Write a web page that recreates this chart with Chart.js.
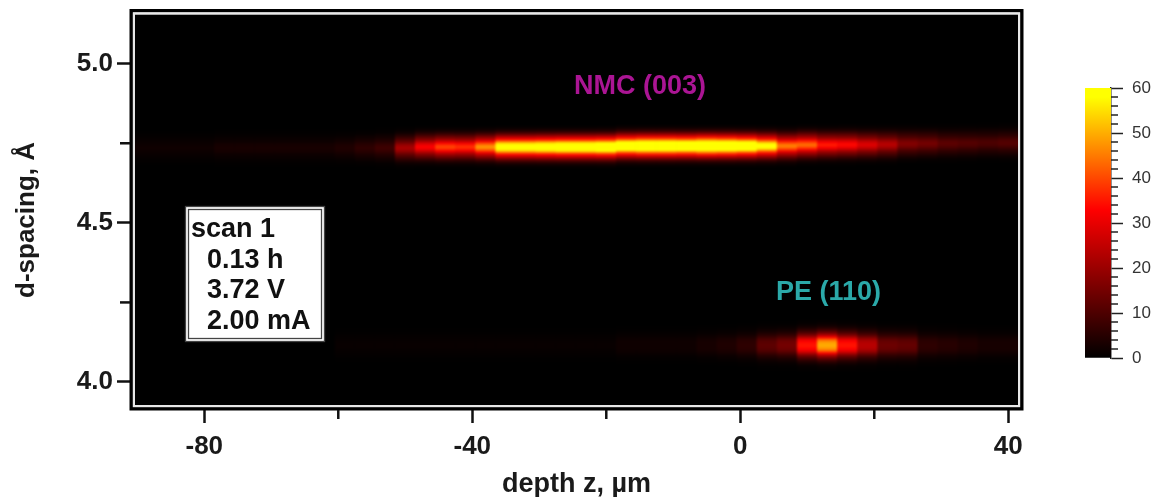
<!DOCTYPE html>
<html><head><meta charset="utf-8">
<style>html,body{margin:0;padding:0;background:#fff;width:1154px;height:497px;overflow:hidden}
canvas{position:absolute;top:0;display:block}</style>
<script src="https://cdn.jsdelivr.net/npm/chart.js@4"></script></head>
<body><canvas id="main" width="1154" height="497" style="left:0"></canvas>
<canvas id="bar" width="100" height="497" style="left:1054px"></canvas>
<script>
// column centres, µm
const depthZ=[-89,-86,-83,-80,-77,-74,-71,-68,-65,-62,-59,-56,-53,-50,-47,-44,-41,-38,-35,-32,-29,-26,-23,-20,-17,-14,-11,-8,-5,-2,1,4,7,10,13,16,19,22,25,28,31,34,37,40];
// peak intensity per column
const nmcPeak=[2,2,2,2,3,3,3,3,3,3,4,6,8,22,33,40,38,48,66,66,68,70,70,72,72,76,76,74,78,76,72,62,46,44,36,34,29,24,17,15,12,11,10,11];
const pePeak=[0,0,0,0,0,0,0,0,0,0,1,1,1,1,1,1,1,1,1,1,1,1,1,1,2,2,2,2,3,4,6,12,15,35,50,35,24,14,13,6,5,4,3,3];
// peak d-spacing per column, Å
const nmcCenter=[4.734,4.734,4.734,4.734,4.734,4.734,4.734,4.734,4.734,4.734,4.734,4.734,4.734,4.734,4.737,4.737,4.737,4.737,4.737,4.737,4.737,4.737,4.737,4.737,4.74,4.74,4.74,4.74,4.74,4.74,4.74,4.74,4.74,4.743,4.743,4.744,4.744,4.745,4.747,4.748,4.748,4.749,4.75,4.75];
const peCenter=[4.114,4.114,4.114,4.114,4.114,4.114,4.114,4.114,4.114,4.114,4.114,4.114,4.114,4.114,4.114,4.114,4.114,4.114,4.114,4.114,4.114,4.114,4.114,4.114,4.114,4.114,4.114,4.114,4.114,4.114,4.114,4.114,4.114,4.114,4.114,4.114,4.114,4.114,4.114,4.114,4.114,4.114,4.114,4.114];
// vertical peak profiles: d-spacing offset (Å) and fraction of the peak
const rowOffsets=[-0.0754,-0.0691,-0.0628,-0.0565,-0.0502,-0.044,-0.0377,-0.0314,-0.0251,-0.0188,-0.0126,-0.0063,0,0.0063,0.0126,0.0188,0.0251,0.0314,0.0377,0.044,0.0502,0.0565,0.0628,0.0691,0.0754];
const nmcProfile=[0,0,0.01,0.03,0.07,0.14,0.24,0.36,0.48,0.62,0.8,0.93,1,0.93,0.8,0.62,0.48,0.36,0.24,0.14,0.07,0.03,0.01,0,0];
const peProfile=[0.01,0.02,0.04,0.08,0.14,0.22,0.32,0.46,0.64,0.82,0.93,0.98,1,0.98,0.93,0.82,0.64,0.46,0.32,0.22,0.14,0.08,0.04,0.02,0.01];
const rowHeight=0.0068;
const xTicks=[-80,-40,0,40], xMinor=[-60,-20,20];
const yTicks=[4.0,4.5,5.0], yMinor=[4.25,4.75];
// colour scale: value -> rgb stops
const cmapValues=[0,33,58,60];
const cmapColors=[[0,0,0],[255,0,0],[255,255,0],[255,255,0]];
const barTicks=[0,10,20,30,40,50,60];

function colorOf(v){
  v=Math.max(0,Math.min(60,v));
  for(let i=1;i<cmapValues.length;i++){
    if(v<=cmapValues[i]){
      const t=(v-cmapValues[i-1])/(cmapValues[i]-cmapValues[i-1]);
      const a=cmapColors[i-1],b=cmapColors[i];
      return `rgb(${a.map((c,k)=>Math.round(c+(b[k]-c)*t)).join(',')})`;
    }
  }
  return 'rgb(255,255,0)';
}
function rows(centers,profile,peak){
  return rowOffsets.map((o,r)=>({
      data:depthZ.map((x,i)=>({x,y:[centers[i]+o-rowHeight/2,centers[i]+o+rowHeight/2]})),
      backgroundColor:peak.map(p=>colorOf(p*profile[r])),
      borderWidth:0,barPercentage:1,categoryPercentage:1,grouped:false
  }));
}
const frame={id:'frame',
  afterDatasetsDraw(c){
    const a=c.chartArea,ctx=c.ctx;
    ctx.save();ctx.beginPath();ctx.rect(a.left,a.top,a.width,a.height);ctx.clip();
    ctx.filter='blur(1.1px)';
    ctx.drawImage(c.canvas,a.left,a.top,a.width,a.height,a.left,a.top,a.width,a.height);
    ctx.filter='none';ctx.restore();
  },
  afterDraw(c){
    const a=c.chartArea,ctx=c.ctx,x=c.scales.x,y=c.scales.y;
    ctx.save();
    ctx.lineWidth=3.5;ctx.strokeStyle='#000';
    ctx.strokeRect(a.left-3.75,a.top-3.75,a.width+7.5,a.height+7.5);
    ctx.lineWidth=2.2;ctx.strokeStyle='#e8e8e8';
    ctx.strokeRect(a.left-1.1,a.top-1.1,a.width+2.2,a.height+2.2);
    ctx.lineWidth=2.5;ctx.strokeStyle='#111';
    xMinor.forEach(v=>{const p=x.getPixelForValue(v);ctx.beginPath();ctx.moveTo(p,a.bottom+5);ctx.lineTo(p,a.bottom+14);ctx.stroke();});
    yMinor.forEach(v=>{const p=y.getPixelForValue(v);ctx.beginPath();ctx.moveTo(a.left-5,p);ctx.lineTo(a.left-15,p);ctx.stroke();});
    const bx=185.5,by=206.5,bw=139,bh=135;
    ctx.fillStyle='#fff';ctx.fillRect(bx,by,bw,bh);
    ctx.lineWidth=1.3;ctx.strokeStyle='#444';ctx.strokeRect(bx,by,bw,bh);
    ctx.strokeRect(bx+3,by+3,bw-6,bh-6);
    ctx.fillStyle='#111';ctx.font='bold 27px "Liberation Sans"';ctx.textBaseline='alphabetic';ctx.textAlign='left';
    ctx.fillText('scan 1',191,237);
    ctx.fillText('0.13 h',207,268);
    ctx.fillText('3.72 V',207,298);
    ctx.fillText('2.00 mA',207,329);
    ctx.font='bold 27px "Liberation Sans"';
    ctx.fillStyle='#ab1594';ctx.fillText('NMC (003)',574,94);
    ctx.fillStyle='#2ba9a9';ctx.fillText('PE (110)',776,300);
    ctx.translate(27,220);ctx.rotate(-Math.PI/2);
    ctx.fillStyle='#1a1a1a';ctx.font='bold 26px "Liberation Sans"';ctx.textAlign='center';ctx.textBaseline='middle';
    ctx.fillText('d-spacing, Å',0,0);
    ctx.restore();
  }
};
new Chart(document.getElementById('main'),{
  type:'bar',
  data:{datasets:[...rows(nmcCenter,nmcProfile,nmcPeak),...rows(peCenter,peProfile,pePeak)]},
  options:{responsive:false,animation:false,devicePixelRatio:1,
    layout:{padding:{top:14.5,right:136,left:0,bottom:0}},
    plugins:{legend:{display:false},tooltip:{enabled:false}},
    scales:{
      x:{type:'linear',min:-90.34,max:41.45,offset:false,
        afterBuildTicks(s){s.ticks=xTicks.map(v=>({value:v}));},
        afterFit(s){s.height=92;s.paddingLeft=0;s.paddingRight=0;},
        border:{display:false},
        grid:{offset:false,drawOnChartArea:false,tickLength:18,tickWidth:2.5,tickColor:'#111'},
        ticks:{color:'#1a1a1a',font:{family:'Liberation Sans',weight:'bold',size:26},padding:8,maxRotation:0,autoSkip:false,callback:v=>String(v)},
        title:{display:true,text:'depth z, µm',color:'#1a1a1a',font:{family:'Liberation Sans',weight:'bold',size:27},padding:{top:4,bottom:-4}}},
      y:{type:'linear',min:3.9277,max:5.1546,
        afterBuildTicks(s){s.ticks=yTicks.map(v=>({value:v}));},
        afterFit(s){s.width=135;s.paddingTop=0;s.paddingBottom=0;},
        border:{display:false},
        grid:{drawOnChartArea:false,tickLength:18,tickWidth:2.5,tickColor:'#111'},
        ticks:{color:'#1a1a1a',font:{family:'Liberation Sans',weight:'bold',size:26},padding:4,callback:v=>v.toFixed(1)}}
    }
  },
  plugins:[{id:'bg',beforeDatasetsDraw(c){const a=c.chartArea;c.ctx.save();c.ctx.fillStyle='#000';c.ctx.fillRect(a.left,a.top,a.width,a.height);c.ctx.restore();}},frame]
});
new Chart(document.getElementById('bar'),{
  type:'bar',
  data:{labels:['c'],datasets:[{data:[[0,60]],borderWidth:0,barPercentage:1,categoryPercentage:1,
    backgroundColor(ctx){
      const c=ctx.chart,s=c.scales.y;
      if(!s||!c.chartArea)return '#000';
      const g=c.ctx.createLinearGradient(0,s.getPixelForValue(0),0,s.getPixelForValue(60));
      cmapValues.forEach(v=>g.addColorStop(v/60,colorOf(v)));
      return g;
    }}]},
  options:{responsive:false,animation:false,devicePixelRatio:1,
    layout:{padding:{top:88,bottom:139,left:31,right:0}},
    plugins:{legend:{display:false},tooltip:{enabled:false}},
    scales:{
      x:{display:false},
      y:{type:'linear',position:'right',min:0,max:60,
        afterBuildTicks(s){s.ticks=barTicks.map(v=>({value:v}));},
        afterFit(s){s.width=43;s.paddingTop=0;s.paddingBottom=0;},
        border:{display:true,color:'#222',width:1.5},
        grid:{drawOnChartArea:false,tickLength:12,tickWidth:1.5,tickColor:'#222'},
        ticks:{color:'#333',font:{family:'Liberation Sans',size:17},padding:9}}
    }
  },
  plugins:[{id:'minor',afterDraw(c){
    const s=c.scales.y,a=c.chartArea,ctx=c.ctx;ctx.save();ctx.strokeStyle='#222';ctx.lineWidth=1.5;
    for(let v=0;v<=60;v+=2){if(v%10===0)continue;const p=s.getPixelForValue(v);ctx.beginPath();ctx.moveTo(a.right,p);ctx.lineTo(a.right+7,p);ctx.stroke();}
    ctx.restore();}}]
});
</script></body></html>
